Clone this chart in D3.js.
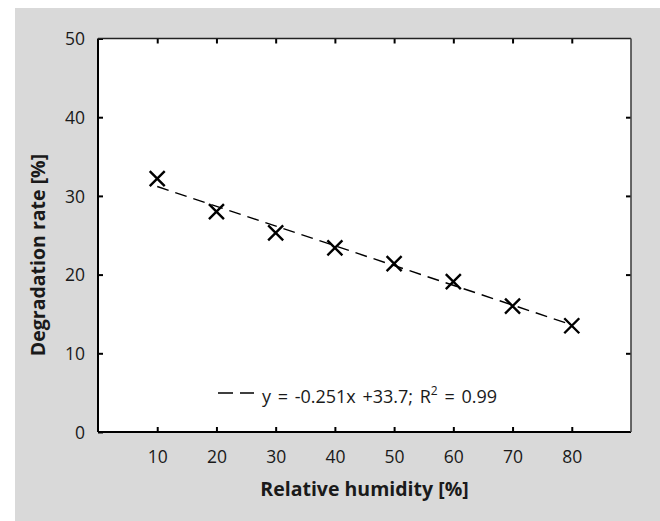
<!DOCTYPE html>
<html>
<head>
<meta charset="utf-8">
<script src="https://cdn.jsdelivr.net/npm/d3@7"></script>
<style>
  body { margin: 0; background: #fff; }
  text { font-family: "Open Sans", "Noto Sans", sans-serif; fill: #1a1a1a; }
</style>
</head>
<body>
<div id="plot"></div>
<script>
// measured points
const humidity = [10, 20, 30, 40, 50, 60, 70, 80]
const degradation = [32.2, 28.0, 25.3, 23.4, 21.4, 19.1, 16.0, 13.5]

// fitted trend line endpoints
const trendX = [10, 80]
const trendY = [31.19, 13.62]

const xTicks = [10, 20, 30, 40, 50, 60, 70, 80]
const yTicks = [0, 10, 20, 30, 40, 50]
const legendText = "y = -0.251x +33.7; R"

let width = 660, height = 521
let plotL = 98, plotR = 631, plotT = 38.5, plotB = 432

let svg = d3.select("#plot")
  .append("svg")
    .attr("width", width)
    .attr("height", height)

// grey frame
svg.append("rect")
  .attr("x", 15).attr("y", 8)
  .attr("width", width - 15).attr("height", height - 8)
  .attr("fill", "#d9d9d9")

svg.append("rect")
  .attr("x", plotL).attr("y", plotT)
  .attr("width", plotR - plotL).attr("height", plotB - plotT)
  .attr("fill", "#fff")

let x = d3.scaleLinear().domain([0, 90]).range([plotL, plotR])
let y = d3.scaleLinear().domain([0, 50]).range([plotB, plotT])

// axes, ticks point inwards
let xAxis = svg.append("g")
  .attr("transform", "translate(0," + plotB + ")")
  .call(d3.axisBottom(x).tickValues(xTicks).tickSize(-5).tickPadding(19))
let xTop = svg.append("g")
  .attr("transform", "translate(0," + plotT + ")")
  .call(d3.axisTop(x).tickValues(xTicks).tickSize(-5).tickFormat(""))
let yAxis = svg.append("g")
  .attr("transform", "translate(" + plotL + ",0)")
  .call(d3.axisLeft(y).tickValues(yTicks).tickSize(-5).tickPadding(13))
let yRight = svg.append("g")
  .attr("transform", "translate(" + plotR + ",0)")
  .call(d3.axisRight(y).tickValues(yTicks.slice(1, -1)).tickSize(-5).tickFormat(""))

svg.selectAll(".domain").remove()
svg.selectAll(".tick line").attr("stroke", "#000").attr("stroke-width", 2)
svg.selectAll(".tick text")
  .style("font-size", "17.5px")
  .style("font-family", "'Open Sans', 'Noto Sans', sans-serif")
  .attr("fill", "#1a1a1a")
yAxis.selectAll(".tick text").attr("dy", "0.35em")

// frame lines
svg.append("line").attr("x1", plotL).attr("x2", plotR).attr("y1", plotB).attr("y2", plotB)
  .attr("stroke", "#000").attr("stroke-width", 2.2)
svg.append("line").attr("x1", plotL).attr("x2", plotL).attr("y1", plotT).attr("y2", plotB)
  .attr("stroke", "#000").attr("stroke-width", 2)
svg.append("line").attr("x1", plotL).attr("x2", plotR).attr("y1", plotT).attr("y2", plotT)
  .attr("stroke", "#222").attr("stroke-width", 1.6)
svg.append("line").attr("x1", plotR).attr("x2", plotR).attr("y1", plotT).attr("y2", plotB)
  .attr("stroke", "#444").attr("stroke-width", 1.6)

// trend line
svg.append("path")
  .datum(d3.zip(trendX, trendY))
  .attr("d", d3.line().x(function(d) { return x(d[0]) }).y(function(d) { return y(d[1]) }))
  .attr("fill", "none")
  .attr("stroke", "#000")
  .attr("stroke-width", 1.4)
  .attr("stroke-dasharray", "12,7")

// X markers
let s = 7.5
svg.append("g")
  .selectAll("path")
  .data(d3.zip(humidity, degradation))
  .enter()
  .append("path")
    .attr("d", function(d) {
      let cx = x(d[0]), cy = y(d[1])
      return "M" + (cx - s) + "," + (cy - s) + "L" + (cx + s) + "," + (cy + s) +
             "M" + (cx - s) + "," + (cy + s) + "L" + (cx + s) + "," + (cy - s)
    })
    .attr("stroke", "#000")
    .attr("stroke-width", 2.4)
    .attr("fill", "none")

// legend
svg.append("line")
  .attr("x1", 218).attr("x2", 254).attr("y1", 393).attr("y2", 393)
  .attr("stroke", "#000").attr("stroke-width", 1.4)
  .attr("stroke-dasharray", "15,7")
let leg = svg.append("text")
  .attr("x", 262).attr("y", 403)
  .style("font-size", "18px")
  .style("word-spacing", "2px")
leg.append("tspan").text(legendText)
leg.append("tspan").text("2").attr("dy", -8).style("font-size", "12px")
leg.append("tspan").text(" = 0.99").attr("dy", 8)

// axis titles
svg.append("text")
  .attr("x", (plotL + plotR) / 2).attr("y", 496)
  .style("text-anchor", "middle")
  .style("font-size", "19.5px")
  .style("font-weight", "bold")
  .text("Relative humidity [%]")

svg.append("text")
  .attr("transform", "translate(45,255) rotate(-90)")
  .style("text-anchor", "middle")
  .style("font-size", "19.5px")
  .style("font-weight", "bold")
  .text("Degradation rate [%]")
</script>
</body>
</html>
